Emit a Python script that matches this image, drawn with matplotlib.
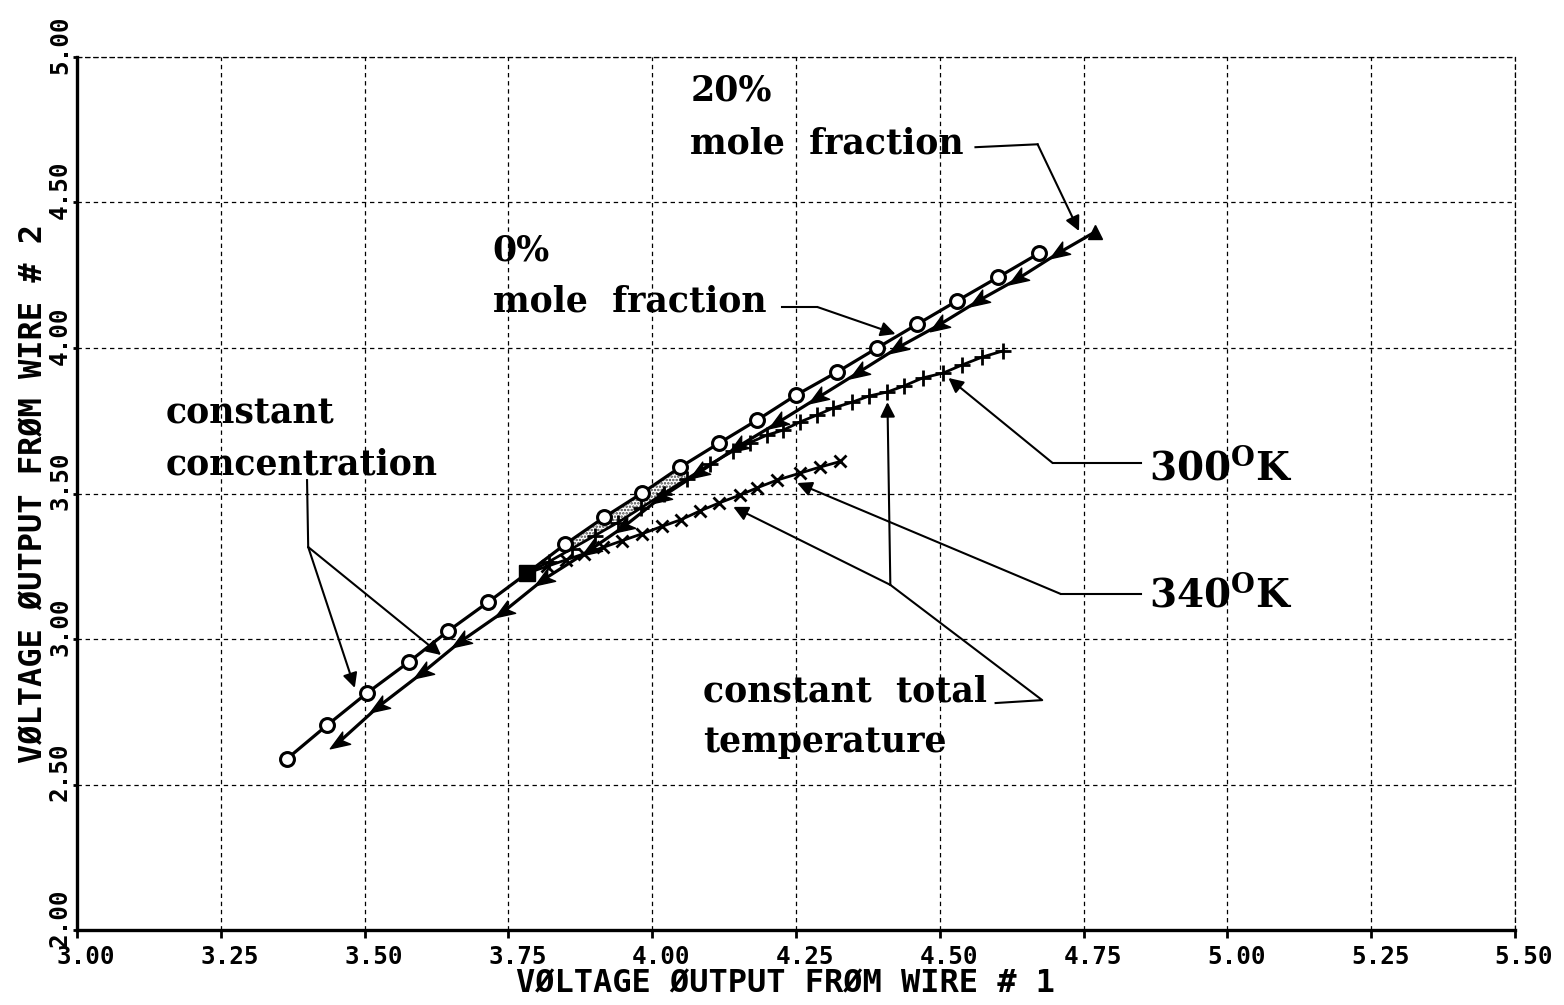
import numpy as np
import matplotlib.pyplot as plt
from matplotlib.markers import MarkerStyle
from matplotlib.path import Path
from matplotlib.transforms import Affine2D, ScaledTranslation

plt.rcParams['mathtext.fontset'] = 'custom'
plt.rcParams['mathtext.rm'] = 'DejaVu Serif:bold'
plt.rcParams['mathtext.bf'] = 'DejaVu Serif:bold'
plt.rcParams['hatch.linewidth'] = 1.2

# 0% mole fraction sweep (circles); index 6 is the common start point (square)
zero_x = [3.365, 3.435, 3.504, 3.577, 3.645, 3.715, 3.783, 3.849, 3.917, 3.983,
          4.049, 4.117, 4.183, 4.250, 4.322, 4.391, 4.461, 4.530, 4.602, 4.673]
zero_y = [2.588, 2.704, 2.814, 2.921, 3.027, 3.127, 3.227, 3.326, 3.419, 3.502,
          3.591, 3.674, 3.753, 3.838, 3.918, 4.000, 4.082, 4.162, 4.244, 4.326]

# 20% mole fraction sweep, traced from the top end downwards
twenty_x = [4.770, 4.706, 4.635, 4.567, 4.496, 4.426, 4.357, 4.287, 4.217, 4.148,
            4.080, 4.014, 3.950, 3.892, 3.810, 3.741, 3.666, 3.600, 3.523, 3.454]
twenty_y = [4.399, 4.326, 4.237, 4.162, 4.076, 4.000, 3.914, 3.828, 3.742, 3.660,
            3.570, 3.485, 3.385, 3.306, 3.203, 3.093, 2.990, 2.883, 2.766, 2.643]

# constant total temperature, 300 K
t300_x = [3.783, 3.820, 3.860, 3.900, 3.940, 3.980, 4.020, 4.060, 4.100, 4.140,
          4.170, 4.200, 4.228, 4.257, 4.287, 4.315, 4.348, 4.377, 4.409, 4.437,
          4.470, 4.506, 4.539, 4.574, 4.610]
t300_y = [3.227, 3.265, 3.310, 3.355, 3.400, 3.450, 3.500, 3.550, 3.600, 3.645,
          3.675, 3.701, 3.718, 3.746, 3.770, 3.794, 3.814, 3.835, 3.849, 3.869,
          3.897, 3.914, 3.942, 3.969, 3.990]

# constant total temperature, 340 K
t340_x = [3.783, 3.818, 3.850, 3.882, 3.915, 3.948, 3.983, 4.017, 4.050, 4.083,
          4.117, 4.153, 4.183, 4.217, 4.257, 4.292, 4.327]
t340_y = [3.227, 3.250, 3.272, 3.293, 3.315, 3.338, 3.362, 3.387, 3.410, 3.440,
          3.468, 3.495, 3.520, 3.546, 3.570, 3.591, 3.610]

xticks = [3.00, 3.25, 3.50, 3.75, 4.00, 4.25, 4.50, 4.75, 5.00, 5.25, 5.50]
yticks = [2.00, 2.50, 3.00, 3.50, 4.00, 4.50, 5.00]

mono = 'DejaVu Sans Mono'
serif = 'DejaVu Serif'

fig = plt.figure(figsize=(15.64, 10.05), dpi=100)
ax = fig.add_axes([0.0492, 0.0746, 0.9195, 0.8687])
ax.set_xlim(3.0, 5.5)
ax.set_ylim(2.0, 5.0)

# grid and frame
ax.set_xticks(xticks)
ax.set_yticks(yticks)
ax.grid(True, color='black', linestyle=(0, (3.5, 3)), linewidth=0.9)
for side in ('left', 'bottom'):
    ax.spines[side].set_linewidth(2.4)
for side in ('top', 'right'):
    ax.spines[side].set_linestyle((0, (3.5, 3)))
    ax.spines[side].set_linewidth(0.9)

ax.set_xticklabels([f'{v:.2f}' for v in xticks], family=mono, weight='bold', fontsize=17.5)
ax.set_yticklabels([f'{v:.2f}' for v in yticks], family=mono, weight='bold', fontsize=17.5,
                   rotation=90, va='center')
ax.tick_params(axis='x', direction='out', length=6, width=2, pad=5)
ax.tick_params(axis='y', direction='out', length=3, width=2, pad=0.5)
for lab in ax.get_xticklabels():
    lab.set_transform(lab.get_transform() + ScaledTranslation(0.09, 0, fig.dpi_scale_trans))
for lab in ax.get_yticklabels():
    lab.set_transform(lab.get_transform() + ScaledTranslation(0, 0.125, fig.dpi_scale_trans))

ax.set_xlabel('VØLTAGE ØUTPUT FRØM WIRE # 1', family=mono, weight='bold', fontsize=23)
ax.set_ylabel('VØLTAGE ØUTPUT FRØM WIRE # 2', family=mono, weight='bold', fontsize=23)
ax.xaxis.set_label_coords(0.493, -0.044)
ax.yaxis.set_label_coords(-0.019, 0.5)

# stippled band between the 0% sweep and the 300 K line
band_x = zero_x[7:11] + t300_x[2:8][::-1]
band_y = zero_y[7:11] + t300_y[2:8][::-1]
ax.fill(band_x, band_y, facecolor='white', edgecolor='0.25', hatch='.....', lw=0, zorder=2)

# 0% sweep
ax.plot(zero_x, zero_y, color='black', lw=2.3, zorder=3)
circ_idx = [i for i in range(len(zero_x)) if i != 6]
ax.plot([zero_x[i] for i in circ_idx], [zero_y[i] for i in circ_idx], ls='none',
        marker='o', ms=10, mfc='white', mec='black', mew=2.2, zorder=4)
ax.plot(zero_x[6], zero_y[6], ls='none', marker='s', ms=11, color='black', zorder=5)

# 20% sweep with arrowheads pointing back down the curve
head = Path([(-1, 0), (1, 0.75), (0.5, 0), (1, -0.75), (-1, 0)],
            [Path.MOVETO, Path.LINETO, Path.LINETO, Path.LINETO, Path.CLOSEPOLY])
arrow_mark = MarkerStyle(head, transform=Affine2D().rotate_deg(33))
ax.plot(twenty_x, twenty_y, color='black', lw=2.3, zorder=3)
ax.plot(twenty_x[1:], twenty_y[1:], ls='none', marker=arrow_mark, ms=14, color='black',
        zorder=4)
ax.plot(twenty_x[0], twenty_y[0], ls='none', marker='^', ms=10, color='black', zorder=4)

# constant total temperature lines
ax.plot(t300_x, t300_y, color='black', lw=2.0, marker='+', ms=12, mew=2.0, zorder=3)
ax.plot(t340_x, t340_y, color='black', lw=2.0, marker='x', ms=9, mew=2.0, zorder=3)

# annotations
txt = dict(family=serif, weight='bold', fontsize=25, color='black')
ax.text(4.066, 4.852, '20%', **txt)
ax.text(4.066, 4.670, 'mole  fraction', **txt)
ax.text(3.723, 4.302, '0%', **txt)
ax.text(3.723, 4.124, 'mole  fraction', **txt)
ax.text(3.155, 3.742, 'constant', **txt)
ax.text(3.155, 3.564, 'concentration', **txt)
ax.text(4.089, 2.784, 'constant  total', **txt)
ax.text(4.089, 2.612, 'temperature', **txt)
big = dict(txt, fontsize=28)
ax.text(4.863, 3.543, r'300$^{\mathrm{O}}$K', **big)
ax.text(4.863, 3.110, r'340$^{\mathrm{O}}$K', **big)

arrow = dict(arrowstyle='-|>', color='black', lw=1.5, mutation_scale=22,
             shrinkA=0, shrinkB=0)
lead = dict(color='black', lw=1.5)


def leader(points, tip):
    xs, ys = zip(*points)
    ax.plot(xs, ys, **lead)
    ax.annotate('', xy=tip, xytext=points[-1], arrowprops=arrow)


leader([(4.562, 4.690), (4.670, 4.700)], (4.742, 4.402))
leader([(4.226, 4.141), (4.287, 4.141)], (4.423, 4.048))
leader([(3.400, 3.546), (3.402, 3.316)], (3.483, 2.832))
ax.annotate('', xy=(3.633, 2.945), xytext=(3.402, 3.316), arrowprops=arrow)
leader([(4.849, 3.605), (4.696, 3.605)], (4.515, 3.897))
leader([(4.849, 3.155), (4.710, 3.155)], (4.252, 3.536))
leader([(4.597, 2.780), (4.678, 2.790), (4.414, 3.186)], (4.409, 3.814))
ax.annotate('', xy=(4.141, 3.454), xytext=(4.414, 3.186), arrowprops=arrow)

fig.savefig('out.png', dpi=100)
